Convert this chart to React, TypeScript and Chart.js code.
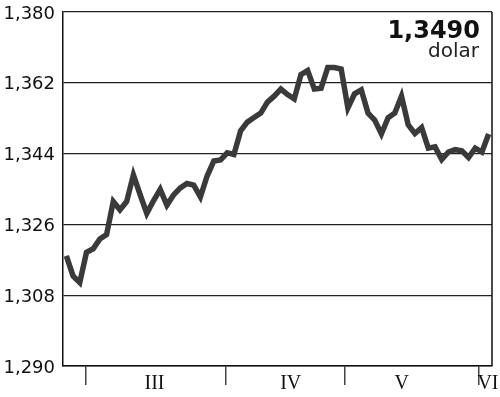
import React, { useEffect, useRef } from 'react';
import { Chart, registerables } from 'chart.js';

Chart.register(...registerables);

// Daily USD exchange-rate readings (March – early June)
const rates: number[] = [
  1.3180, 1.3129, 1.3112, 1.3189, 1.3198, 1.3223, 1.3234, 1.3318,
  1.3297, 1.3318, 1.3386, 1.3336, 1.3288, 1.3320, 1.3349, 1.3309,
  1.3335, 1.3353, 1.3364, 1.3360, 1.3330, 1.3383, 1.3421, 1.3424,
  1.3442, 1.3438, 1.3498, 1.3520, 1.3532, 1.3543, 1.3571, 1.3586,
  1.3604, 1.3590, 1.3579, 1.3641, 1.3651, 1.3604, 1.3606, 1.3659,
  1.3659, 1.3655, 1.3556, 1.3592, 1.3602, 1.3543, 1.3525, 1.3490,
  1.3531, 1.3543, 1.3586, 1.3513, 1.3491, 1.3506, 1.3454, 1.3457,
  1.3425, 1.3444, 1.3450, 1.3447, 1.3430, 1.3454, 1.3444, 1.3490,
];

const yTickValues: number[] = [1.29, 1.308, 1.326, 1.344, 1.362, 1.38];

// month boundaries and month-name positions, in trading-day index units
const monthBoundaries: number[] = [2.93, 23.8, 41.6, 61.5];
const monthLabels: string[] = ['III', 'IV', 'V', 'VI'];
const monthLabelPositions: number[] = [13.15, 33.47, 50.03, 62.9];

const lastValueText = '1,3490';
const unitText = 'dolar';

const framePlugin = {
  id: 'rightFrame',
  afterDraw(chart: any) {
    const { ctx, chartArea } = chart;
    ctx.save();
    ctx.strokeStyle = '#111';
    ctx.lineWidth = 1.5;
    ctx.beginPath();
    ctx.moveTo(chartArea.right, chartArea.top);
    ctx.lineTo(chartArea.right, chartArea.bottom);
    ctx.stroke();
    ctx.restore();
  },
};

export default function App() {
  const canvasRef = useRef<HTMLCanvasElement | null>(null);

  useEffect(() => {
    if (!canvasRef.current) return;
    const boundarySet = new Set(monthBoundaries);
    const chart = new Chart(canvasRef.current, {
      type: 'line',
      data: {
        datasets: [
          {
            data: rates.map((v, i) => ({ x: i, y: v })),
            borderColor: '#3a3a3a',
            borderWidth: 5.5,
            pointRadius: 0,
            tension: 0,
            borderJoinStyle: 'miter',
            fill: false,
          },
        ],
      },
      options: {
        responsive: false,
        animation: false,
        layout: { padding: { top: 12, right: 8, left: 0, bottom: 0 } },
        plugins: { legend: { display: false }, tooltip: { enabled: false } },
        scales: {
          x: {
            type: 'linear',
            min: -0.5,
            max: rates.length - 0.5,
            afterBuildTicks: (s: any) => {
              s.ticks = [...monthBoundaries, ...monthLabelPositions]
                .sort((a, b) => a - b)
                .map((v) => ({ value: v }));
            },
            ticks: {
              autoSkip: false,
              maxRotation: 0,
              minRotation: 0,
              padding: -13,
              color: '#111',
              font: { family: "'Liberation Serif', serif", size: 20 },
              callback: (v: any) => {
                const i = monthLabelPositions.indexOf(Number(v));
                return i >= 0 ? monthLabels[i] : '';
              },
            },
            grid: {
              drawOnChartArea: false,
              tickLength: 19,
              lineWidth: 1.5,
              color: (ctx: any) =>
                ctx.tick && boundarySet.has(ctx.tick.value) ? '#444' : 'rgba(0,0,0,0)',
            },
            border: { display: true, color: '#111', width: 1.5 },
            afterFit: (s: any) => {
              s.height = 31;
              s.paddingLeft = 0;
              s.paddingRight = 0;
            },
          },
          y: {
            type: 'linear',
            min: 1.29,
            max: 1.38,
            afterBuildTicks: (s: any) => {
              s.ticks = yTickValues.map((v) => ({ value: v }));
            },
            ticks: {
              padding: 8,
              labelOffset: 2,
              color: '#111',
              font: { family: "'DejaVu Sans', sans-serif", size: 18 },
              callback: (v: any) => Number(v).toFixed(3).replace('.', ','),
            },
            grid: { drawTicks: false, color: '#222', lineWidth: 1.2 },
            border: { display: true, color: '#111', width: 1.5 },
            afterFit: (s: any) => {
              s.width = 63;
              s.paddingTop = 0;
              s.paddingBottom = 0;
            },
          },
        },
      } as any,
      plugins: [framePlugin],
    });
    return () => chart.destroy();
  }, []);

  return (
    <div style={{ position: 'absolute', left: 0, top: 0, width: 500, height: 397, background: '#fff' }}>
      <canvas ref={canvasRef} width={500} height={397} style={{ display: 'block' }} />
      <div
        style={{
          position: 'absolute',
          right: 20,
          top: 18,
          fontFamily: "'DejaVu Sans', sans-serif",
          fontWeight: 'bold',
          fontSize: '24px',
          lineHeight: '24px',
          color: '#111',
          whiteSpace: 'nowrap',
        }}
      >
        {lastValueText}
      </div>
      <div
        style={{
          position: 'absolute',
          right: 21,
          top: 40,
          fontFamily: "'DejaVu Sans', sans-serif",
          fontSize: '20px',
          lineHeight: '20px',
          color: '#222',
          whiteSpace: 'nowrap',
        }}
      >
        {unitText}
      </div>
    </div>
  );
}
